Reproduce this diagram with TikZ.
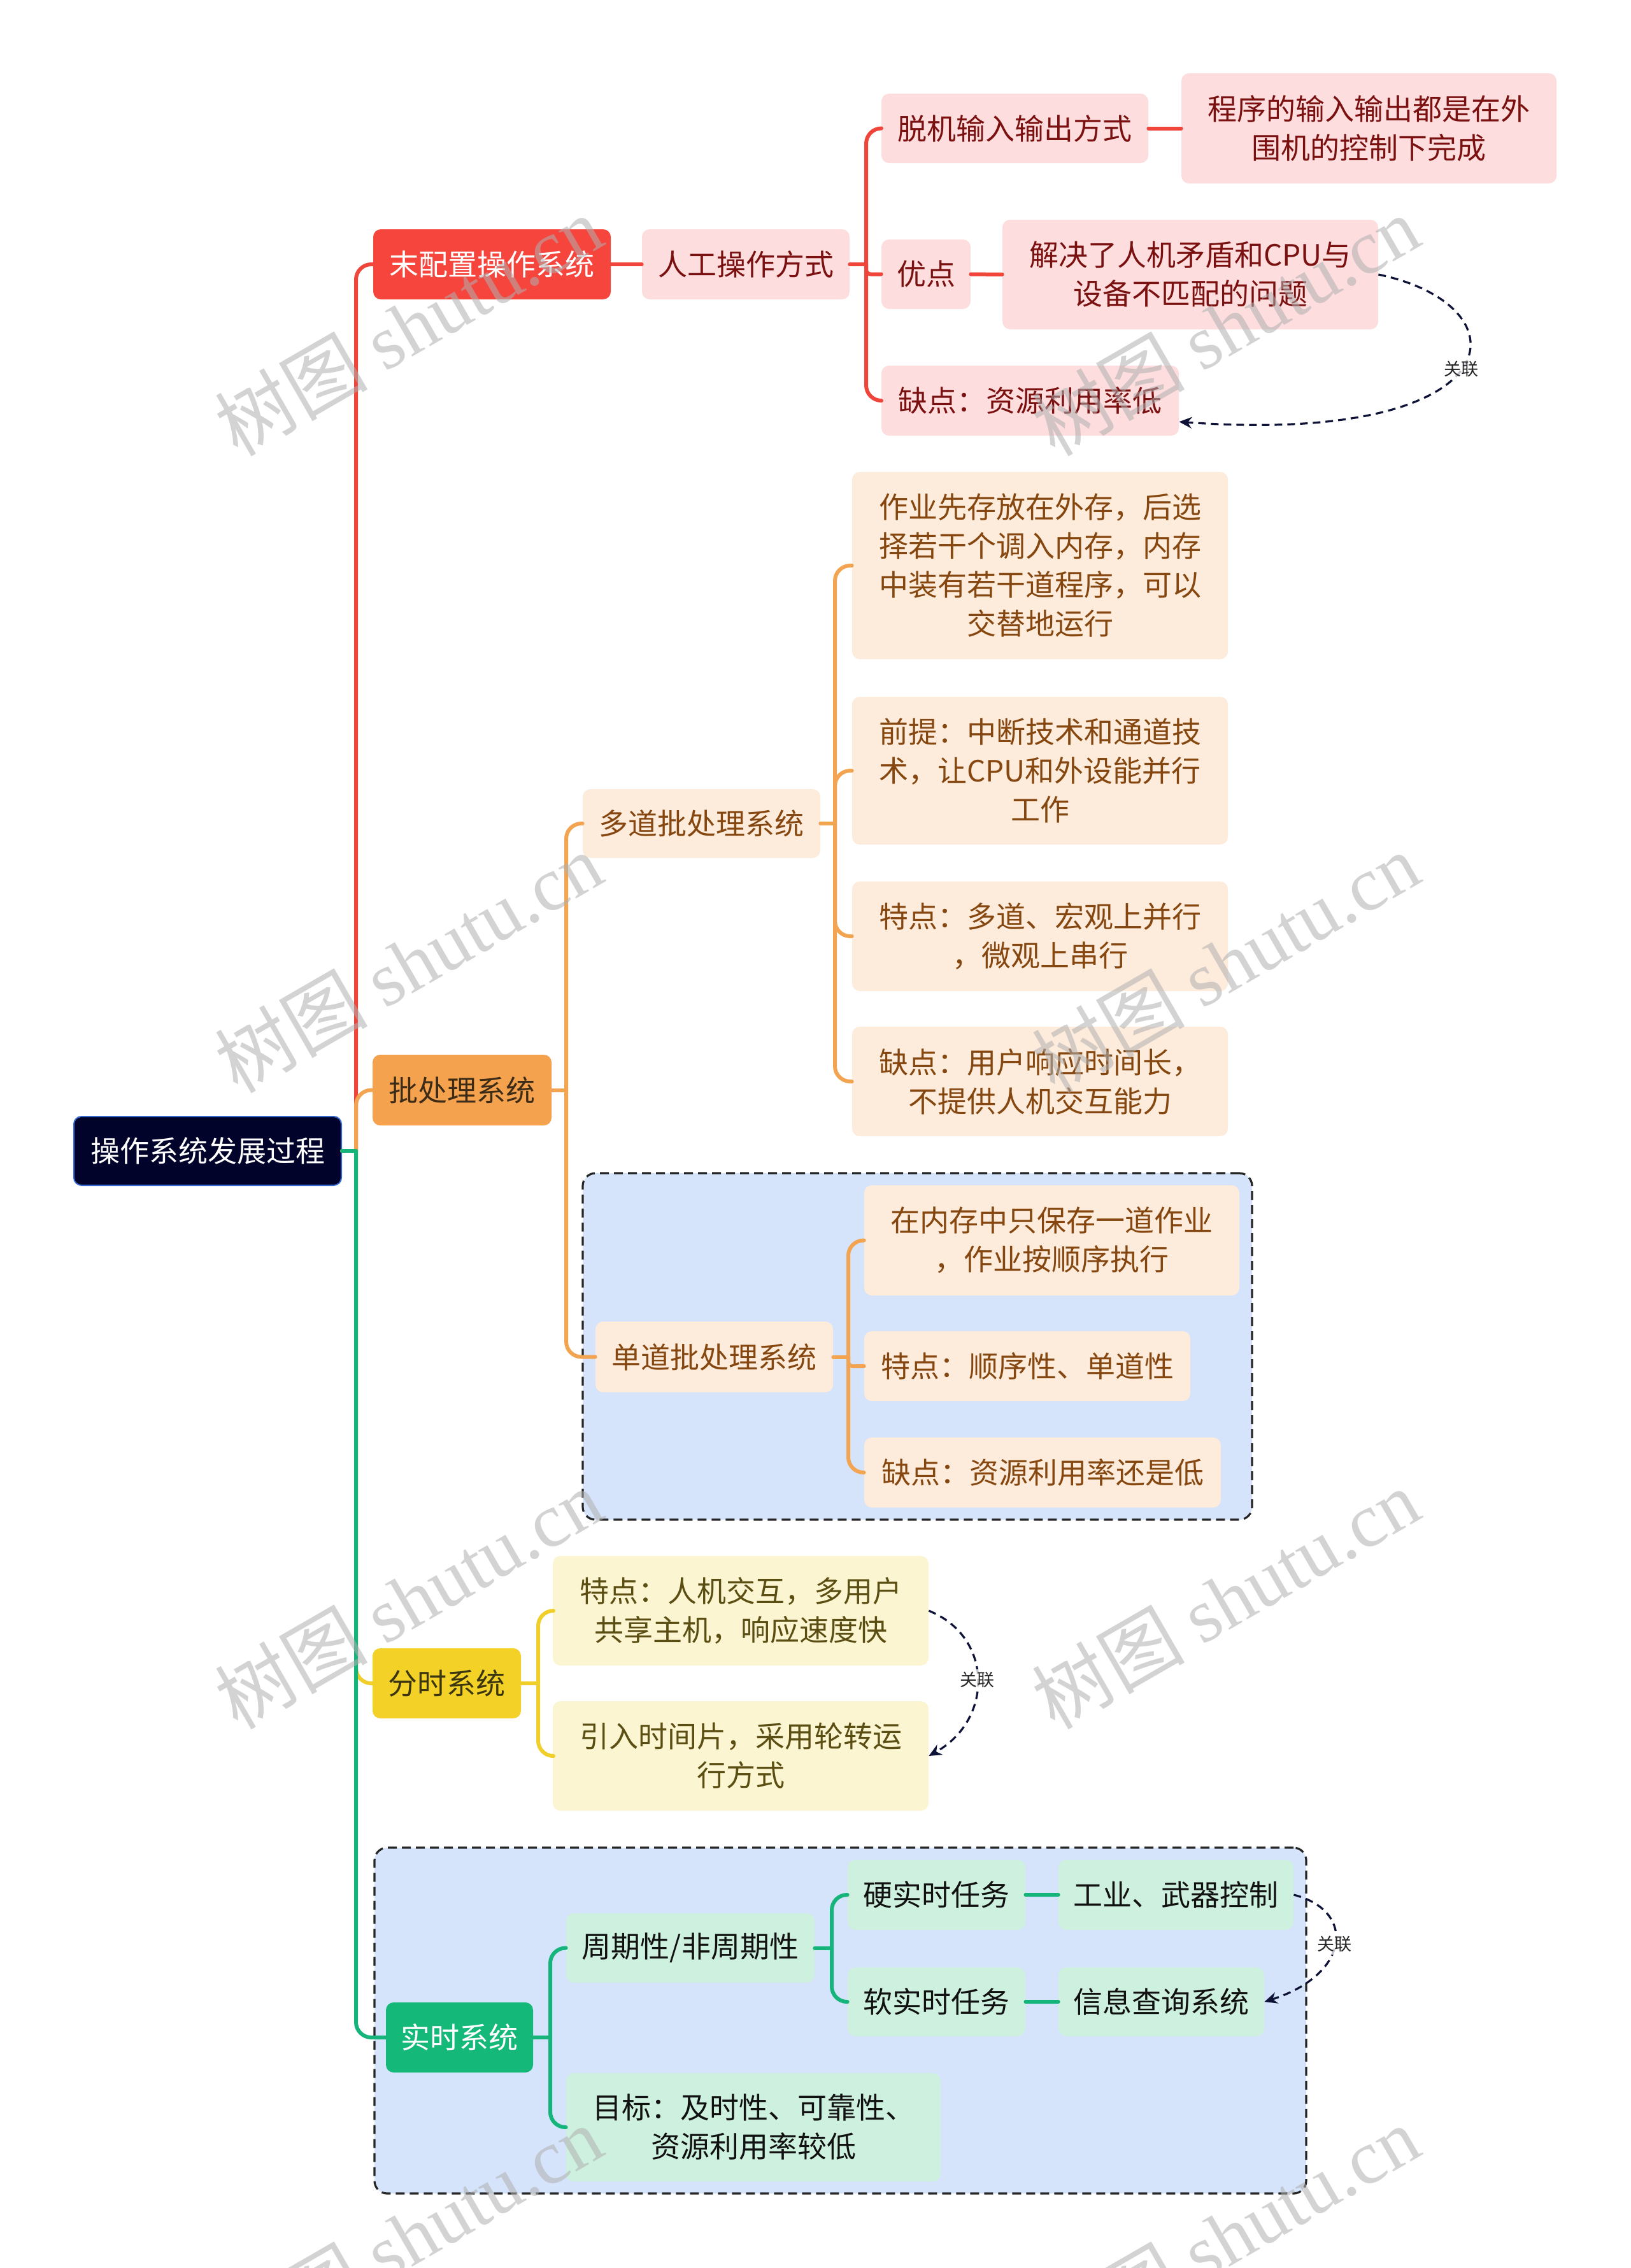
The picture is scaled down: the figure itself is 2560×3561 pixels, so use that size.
\documentclass[tikz,border=0pt]{standalone}
\usepackage{fontspec}
\setmainfont{Noto Sans CJK SC}
\newfontfamily\wmserif{Liberation Serif}
\usetikzlibrary{arrows.meta,calc,fit}
\definecolor{rootF}{HTML}{01032A}
\definecolor{rootB}{HTML}{3468CC}
\definecolor{redN}{HTML}{F5453D}
\definecolor{redC}{HTML}{FDDDDD}
\definecolor{redT}{HTML}{7A1010}
\definecolor{redL}{HTML}{F0453B}
\definecolor{oraN}{HTML}{F5A24E}
\definecolor{oraC}{HTML}{FDEBDB}
\definecolor{oraT}{HTML}{85470F}
\definecolor{oraL}{HTML}{F3A451}
\definecolor{oraNT}{HTML}{3C2B17}
\definecolor{yelN}{HTML}{F3D127}
\definecolor{yelC}{HTML}{FCF5D2}
\definecolor{yelT}{HTML}{5B4E12}
\definecolor{yelL}{HTML}{F0CF2A}
\definecolor{yelNT}{HTML}{3B3510}
\definecolor{grnN}{HTML}{14B878}
\definecolor{grnC}{HTML}{CDF0DF}
\definecolor{grnT}{HTML}{111111}
\definecolor{grnL}{HTML}{15B47A}
\definecolor{grpF}{HTML}{D5E4FB}
\definecolor{grpB}{HTML}{262626}
\definecolor{relC}{HTML}{0E1236}
\newcommand\mmfont{\fontsize{23pt}{30.5pt}\selectfont}
\newcommand\relfont{\fontsize{13.5pt}{16pt}\selectfont}
\newcommand\wmfont{\fontsize{60pt}{70pt}\selectfont}
\begin{document}
\begin{tikzpicture}[x=0.5pt,y=-0.5pt,
  box/.style={rectangle, rounded corners=6pt, inner sep=0pt, align=center, font=\mmfont},
  wh/.style 2 args={minimum width=#1*0.5pt, minimum height=#2*0.5pt},
  rootbox/.style={box, fill=rootF, draw=rootB, line width=1pt, text=white},
  redbox/.style={box, fill=redN, text=white},
  redkid/.style={box, fill=redC, text=redT},
  orabox/.style={box, fill=oraN, text=oraNT},
  orakid/.style={box, fill=oraC, text=oraT},
  yelbox/.style={box, fill=yelN, text=yelNT},
  yelkid/.style={box, fill=yelC, text=yelT},
  grnbox/.style={box, fill=grnN, text=white},
  grnkid/.style={box, fill=grnC, text=grnT},
  conn/.style={line width=3pt, line cap=round, line join=round},
  rc/.style={rounded corners=12pt},
  rcs/.style={rounded corners=3.5pt},
  grp/.style={fill=grpF, draw=grpB, line width=1.6pt, dash pattern=on 7pt off 4pt, rounded corners=10pt, inner sep=0pt},
  rel/.style={draw=relC, line width=1.6pt, dash pattern=on 6pt off 4pt, -{Stealth[length=10pt,width=9pt]}},
  rellab/.style={font=\relfont, text=black!85, fill=white, fill opacity=0.75, text opacity=1, inner sep=2pt},
  wm/.style={font=\wmfont, text=black!31, opacity=0.55, rotate=30, inner sep=0pt}
]
\useasboundingbox (0,0) rectangle (2560,3561);
\fill[white] (0,0) rectangle (2560,3561);

% group boxes
\node[grp, fit={(915,1842) (1966,2386)}] (G1) {};
\node[grp, fit={(588,2901) (2051,3444)}] (G2) {};

% root and level 1
\node[rootbox, wh={420}{108}] (R) at (326,1807) {操作系统发展过程};
\node[redbox, wh={373}{110}] (A) at (772.5,415) {末配置操作系统};
\node[orabox, wh={281}{111}] (B) at (725.5,1711.5) {批处理系统};
\node[yelbox, wh={233}{110}] (C) at (701.5,2643) {分时系统};
\node[grnbox, wh={231}{110}] (D) at (721.5,3199) {实时系统};

% red subtree
\node[redkid, wh={326}{110}] (A1) at (1171,415) {人工操作方式};
\node[redkid, wh={419}{109}] (A11) at (1593.5,201.5) {脱机输入输出方式};
\node[redkid, wh={589}{173}] (A111) at (2149.5,201.5) {程序的输入输出都是在外\\围机的控制下完成};
\node[redkid, wh={140}{109}] (A12) at (1454,430.5) {优点};
\node[redkid, wh={590}{172}] (A121) at (1869,431) {解决了人机矛盾和CPU与\\设备不匹配的问题};
\node[redkid, wh={467}{110}] (A13) at (1617.5,629) {缺点：资源利用率低};

% orange subtree
\node[orakid, wh={373}{108}] (B1) at (1101.5,1293) {多道批处理系统};
\node[orakid, wh={590}{294}] (B11) at (1633,888) {作业先存放在外存，后选\\择若干个调入内存，内存\\中装有若干道程序，可以\\交替地运行};
\node[orakid, wh={590}{232}] (B12) at (1633,1210) {前提：中断技术和通道技\\术，让CPU和外设能并行\\工作};
\node[orakid, wh={590}{172}] (B13) at (1633,1470) {特点：多道、宏观上并行\\，微观上串行};
\node[orakid, wh={590}{172}] (B14) at (1633,1698) {缺点：用户响应时间长，\\不提供人机交互能力};
\node[orakid, wh={373}{111}] (B2) at (1121.5,2130.5) {单道批处理系统};
\node[orakid, wh={589}{173}] (B21) at (1651.5,1947.5) {在内存中只保存一道作业\\，作业按顺序执行};
\node[orakid, wh={512}{110}] (B22) at (1613,2145) {特点：顺序性、单道性};
\node[orakid, wh={560}{110}] (B23) at (1637,2312) {缺点：资源利用率还是低};

% yellow subtree
\node[yelkid, wh={590}{172}] (C1) at (1163,2529) {特点：人机交互，多用户\\共享主机，响应速度快};
\node[yelkid, wh={590}{172}] (C2) at (1163,2757) {引入时间片，采用轮转运\\行方式};

% green subtree
\node[grnkid, wh={390}{109}] (D1) at (1084,3058.5) {周期性/非周期性};
\node[grnkid, wh={588}{170}] (D2) at (1183,3340) {目标：及时性、可靠性、\\资源利用率较低};
\node[grnkid, wh={279}{110}] (D11) at (1470.5,2975) {硬实时任务};
\node[grnkid, wh={279}{108}] (D12) at (1470.5,3143) {软实时任务};
\node[grnkid, wh={369}{110}] (D111) at (1846.5,2975) {工业、武器控制};
\node[grnkid, wh={323}{108}] (D121) at (1823.5,3143) {信息查询系统};

% junctions
\coordinate (jR) at (559,1807);
\coordinate (jA1) at (1360,415);
\coordinate (jB) at (889,1711.5);
\coordinate (jB1) at (1311,1293);
\coordinate (jB2) at (1332,2130.5);
\coordinate (jC) at (845,2643);
\coordinate (jD) at (864,3199);
\coordinate (jD1) at (1306,3058.5);

% level-1 connectors
\draw[conn, redL] (R.east) -- (jR);
\draw[conn, redL, rc] (jR) |- (A.west);
\draw[conn, oraL] (R.east) -- (jR);
\draw[conn, oraL, rc] (jR) |- (B.west);
\draw[conn, yelL] (R.east) -- (jR);
\draw[conn, yelL, rc] (jR) |- (C.west);
\draw[conn, grnL] (R.east) -- (jR);
\draw[conn, grnL, rc] (jR) |- (D.west);

% red connectors
\draw[conn, redL] (A.east) -- (A1.west);
\draw[conn, redL] (A1.east) -- (jA1);
\draw[conn, redL, rc] (jA1) |- (A11.west);
\draw[conn, redL, rcs] (jA1) |- (A12.west);
\draw[conn, redL, rc] (jA1) |- (A13.west);
\draw[conn, redL] (A11.east) -- (A111.west);
\draw[conn, redL] (A12.east) -- (A121.west);

% orange connectors
\draw[conn, oraL] (B.east) -- (jB);
\draw[conn, oraL, rc] (jB) |- (B1.west);
\draw[conn, oraL, rc] (jB) |- (B2.west);
\draw[conn, oraL] (B1.east) -- (jB1);
\draw[conn, oraL, rc] (jB1) |- (B11.west);
\draw[conn, oraL, rc] (jB1) |- (B12.west);
\draw[conn, oraL, rc] (jB1) |- (B13.west);
\draw[conn, oraL, rc] (jB1) |- (B14.west);
\draw[conn, oraL] (B2.east) -- (jB2);
\draw[conn, oraL, rc] (jB2) |- (B21.west);
\draw[conn, oraL, rcs] (jB2) |- (B22.west);
\draw[conn, oraL, rc] (jB2) |- (B23.west);

% yellow connectors
\draw[conn, yelL] (C.east) -- (jC);
\draw[conn, yelL, rc] (jC) |- (C1.west);
\draw[conn, yelL, rc] (jC) |- (C2.west);

% green connectors
\draw[conn, grnL] (D.east) -- (jD);
\draw[conn, grnL, rc] (jD) |- (D1.west);
\draw[conn, grnL, rc] (jD) |- (D2.west);
\draw[conn, grnL] (D1.east) -- (jD1);
\draw[conn, grnL, rc] (jD1) |- (D11.west);
\draw[conn, grnL, rc] (jD1) |- (D12.west);
\draw[conn, grnL] (D11.east) -- (D111.west);
\draw[conn, grnL] (D12.east) -- (D121.west);

% relations
\draw[rel] (A121.east) .. controls (2400,480) and (2380,700) .. ($(A13.east)!0.6!(A13.south east)$)
  node[rellab, pos=0.5] (L1) {关联};
\draw[rel] (C1.east) .. controls (1560,2570) and (1560,2700) .. (C2.east)
  node[rellab, pos=0.5] (L2) {关联};
\draw[rel] (D111.east) .. controls (2130,3000) and (2120,3100) .. (D121.east)
  node[rellab, pos=0.5] (L3) {关联};

% watermarks
\node[wm] (w1) at (641,511) {树图 {\wmserif shutu.cn}};
\node[wm] (w2) at (1924,511) {树图 {\wmserif shutu.cn}};
\node[wm] (w3) at (641,1511) {树图 {\wmserif shutu.cn}};
\node[wm] (w4) at (1924,1511) {树图 {\wmserif shutu.cn}};
\node[wm] (w5) at (641,2510) {树图 {\wmserif shutu.cn}};
\node[wm] (w6) at (1924,2510) {树图 {\wmserif shutu.cn}};
\node[wm] (w7) at (641,3510) {树图 {\wmserif shutu.cn}};
\node[wm] (w8) at (1924,3510) {树图 {\wmserif shutu.cn}};
\end{tikzpicture}
\end{document}
